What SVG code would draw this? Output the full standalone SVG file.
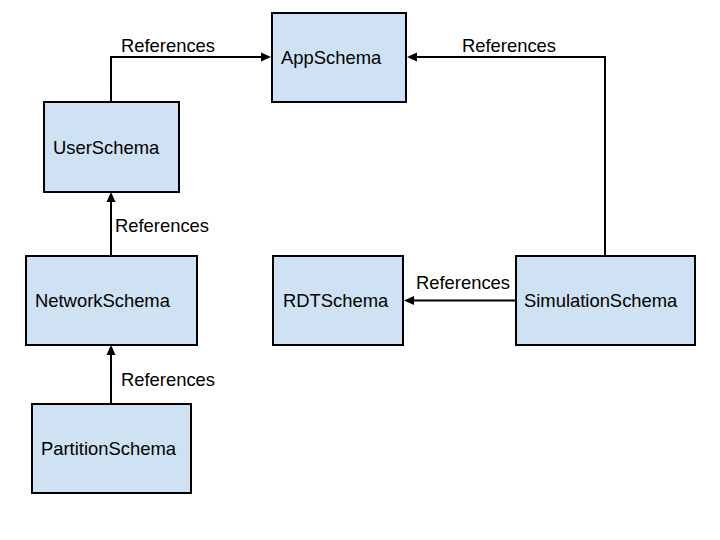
<svg xmlns="http://www.w3.org/2000/svg" width="720" height="540" viewBox="0 0 720 540">
<style>
.node rect{fill:#cfe2f3;stroke:#000;stroke-width:2}
text{font-family:"Liberation Sans",Arial,sans-serif;font-size:18.4px;fill:#000}
.conn path{fill:none;stroke:#000;stroke-width:2}
</style>
<defs>
<marker id="arr" markerUnits="userSpaceOnUse" markerWidth="12" markerHeight="12" viewBox="0 -6 12 12" refX="0" refY="0" orient="auto">
<path d="M0,-4.5 L10,0 L0,4.5 Z" fill="#000"/>
</marker>
</defs>
<rect width="720" height="540" fill="#fff"/>
<g id="connectors" class="conn">
<path d="M111,102 V57 H261" marker-end="url(#arr)"/>
<path d="M605,256 V57 H417" marker-end="url(#arr)"/>
<path d="M111,256 V202" marker-end="url(#arr)"/>
<path d="M111,404 V355" marker-end="url(#arr)"/>
<path d="M516,300.5 H414" marker-end="url(#arr)"/>
<text x="121" y="52">References</text>
<text x="462" y="52">References</text>
<text x="115" y="232">References</text>
<text x="121" y="386">References</text>
<text x="416" y="289">References</text>
</g>
<g id="AppSchema" class="node"><rect x="272" y="13" width="134" height="89"/><text x="281" y="64">AppSchema</text></g>
<g id="UserSchema" class="node"><rect x="44" y="102" width="135" height="90"/><text x="53" y="154">UserSchema</text></g>
<g id="NetworkSchema" class="node"><rect x="26" y="256" width="171" height="89"/><text x="35" y="307">NetworkSchema</text></g>
<g id="RDTSchema" class="node"><rect x="273" y="256" width="130" height="89"/><text x="283" y="307">RDTSchema</text></g>
<g id="SimulationSchema" class="node"><rect x="516" y="256" width="179" height="89"/><text x="524" y="307">SimulationSchema</text></g>
<g id="PartitionSchema" class="node"><rect x="32" y="404" width="159" height="89"/><text x="41" y="455">PartitionSchema</text></g>
</svg>
